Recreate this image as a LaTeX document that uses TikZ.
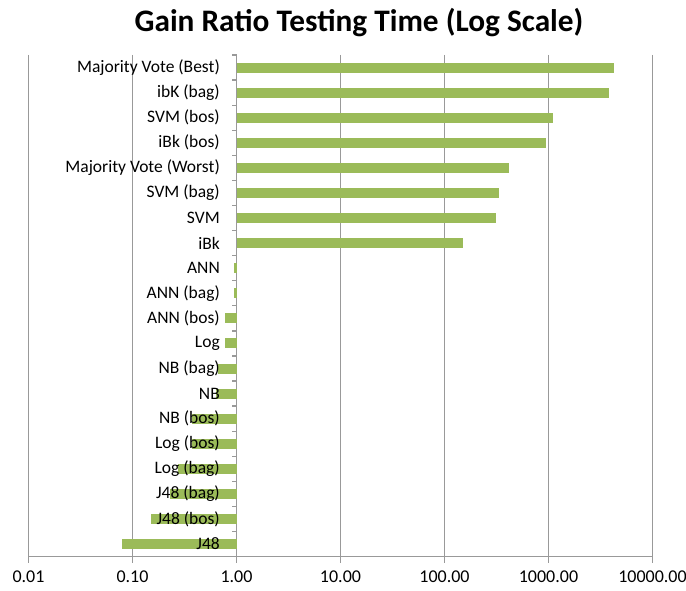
\documentclass[tikz,border=0pt]{standalone}
\usepackage{fontspec}
\setmainfont{Carlito}
\definecolor{bargreen}{HTML}{9BBB59}
\definecolor{gridgray}{HTML}{999999}
\begin{document}
\begin{tikzpicture}[x=1pt,y=-1pt,
  grid/.style={draw=gridgray,line width=1.3pt},
  bar/.style={fill=bargreen,draw=none},
  catlabel/.style={anchor=east,font=\fontsize{17.5}{19}\selectfont,inner sep=0pt},
  ticklabel/.style={anchor=center,font=\fontsize{18}{20}\selectfont,inner sep=0pt},
  titlestyle/.style={anchor=center,font=\fontsize{31.3}{34}\selectfont\bfseries,inner sep=0pt}]
\useasboundingbox[fill=white] (0,0) rectangle (686,591);
\def\ytop{55}
\def\ybot{556.6}
\def\rowh{25.08}
% gridlines
\foreach \k in {0,...,6}{
  \draw[grid] ({28.5+104*\k},\ytop) -- ({28.5+104*\k},\ybot);
  \draw[grid] ({28.5+104*\k},\ybot) -- ({28.5+104*\k},\ybot+6);
}
% bottom axis
\draw[grid] (28.5,\ybot) -- (652.5,\ybot);
% bars
\foreach \i/\xe in {1/614,2/609,3/553,4/546,5/509,6/498.5,7/496,8/463,9/234,10/234,11/225,12/225,13/217.7,14/216,15/191.7,16/191.7,17/178.3,18/170,19/150.7,20/122.3}{
  \pgfmathsetmacro{\yc}{\ytop+(\i-0.5)*\rowh}
  \fill[bar] (236.5,\yc-5) rectangle (\xe,\yc+5);
}
% category axis ticks
\foreach \k in {0,...,20}{
  \draw[grid] (232,{\ytop+\k*\rowh}) -- (236.5,{\ytop+\k*\rowh});
}
% category labels
\foreach \i/\t in {1/Majority Vote (Best),2/ibK (bag),3/SVM (bos),4/iBk (bos),5/Majority Vote (Worst),6/SVM (bag),7/SVM,8/iBk,9/ANN,10/ANN (bag),11/ANN (bos),12/Log,13/NB (bag),14/NB,15/NB (bos),16/Log (bos),17/Log (bag),18/J48 (bag),19/J48 (bos),20/J48}{
  \pgfmathsetmacro{\yc}{\ytop+(\i-0.5)*\rowh}
  \node[catlabel] (lab\i) at (220,\yc) {\t};
}
% tick labels
\foreach \k/\t in {0/0.01,1/0.10,2/1.00,3/10.00,4/100.00,5/1000.00,6/10000.00}{
  \node[ticklabel] (tick\k) at ({28.5+104*\k},577) {\t};
}
\node[titlestyle] (title) at (359,23) {Gain Ratio Testing Time (Log Scale)};
\end{tikzpicture}
\end{document}
